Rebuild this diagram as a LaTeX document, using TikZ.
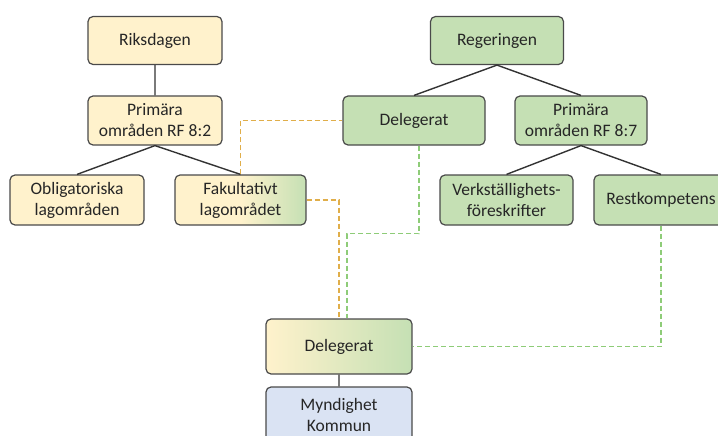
\documentclass[tikz,border=0pt]{standalone}
\usepackage{fontspec}
\setmainfont{Carlito}
\usepackage{tikz}
\usetikzlibrary{positioning}
\definecolor{yfill}{HTML}{FFF2CC}
\definecolor{gfill}{HTML}{C5E0B4}
\definecolor{bfill}{HTML}{DAE3F3}
\definecolor{edgegray}{HTML}{4A4A4A}
\definecolor{dashorange}{HTML}{E0AE4A}
\definecolor{dashgreen}{HTML}{8ECC78}
\tikzset{
	box/.style={draw=edgegray, line width=1.2pt, rounded corners=5pt, align=center,
		inner sep=0pt, text=black!85, font=\fontsize{17.5}{21}\selectfont}, % every box in the chart
	ybox/.style={box, fill=yfill, minimum width=134pt, minimum height=48pt}, % Riksdagen side
	gbox/.style={box, fill=gfill, minimum width=133pt, minimum height=48pt}, % Regeringen side
	mixbox/.style={box, left color=yfill, right color=gfill}, % both sides
	link/.style={draw=black!80, line width=1.4pt}, % solid connectors
	odash/.style={draw=dashorange, line width=1.5pt, dash pattern=on 5pt off 3pt}, % orange dashed
	gdash/.style={draw=dashgreen, line width=1.5pt, dash pattern=on 5pt off 3pt}, % green dashed
}
\begin{document}
\begin{tikzpicture}[x=1pt,y=-1pt]
	\useasboundingbox (0,0) rectangle (718,436);
	\clip (0,0) rectangle (718,436);
			\node[ybox] (riks) at (155,40.5) {Riksdagen};
			\node[ybox, minimum height=49pt] (prim82) at (155,120.5) {Primära\\områden RF 8:2};
			\node[ybox, minimum height=50pt] (oblig) at (77,200) {Obligatoriska\\lagområden};
			\node[mixbox, middle color=yfill, minimum width=131pt, minimum height=50pt] (fakul) at (240.5,200) {Fakultativt\\lagområdet};
			\node[gbox] (reg) at (497,40.5) {Regeringen};
			\node[gbox, minimum width=142pt, minimum height=49pt] (deleg) at (414,120.5) {Delegerat};
			\node[gbox, minimum width=132pt, minimum height=49pt] (prim87) at (581,120.5) {Primära\\områden RF 8:7};
			\node[gbox, minimum height=50pt] (verk) at (506.5,200) {Verkställighets-\\föreskrifter};
			\node[gbox, minimum width=134pt, minimum height=50pt] (rest) at (661,200) {Restkompetens};
			\node[mixbox, minimum width=146pt, minimum height=55pt] (delegb) at (339,346.5) {Delegerat};
			\node[box, fill=bfill, minimum width=146pt, minimum height=55pt] (mynd) at (339,414.5) {Myndighet\\Kommun};
	% tree lines
	\draw[link] (riks) -- (prim82)
			(prim82.south) -- (oblig.north)
			(prim82.south) -- (fakul.north)
			(reg.south) -- (deleg.north)
			(reg.south) -- (prim87.north)
			(prim87.south) -- (verk.north)
			(prim87.south) -- (rest.north)
			(delegb) -- (mynd);
	% delegation
	\draw[odash] (fakul.north) |- (deleg.west);
	\draw[odash] (fakul.east) -| (delegb.north);
	\draw[gdash] ([xshift=5pt]deleg.south) -- ++(0,88) -| ([xshift=8pt]delegb.north);
	\draw[gdash] (rest.south) |- (delegb.east);
\end{tikzpicture}
\end{document}
